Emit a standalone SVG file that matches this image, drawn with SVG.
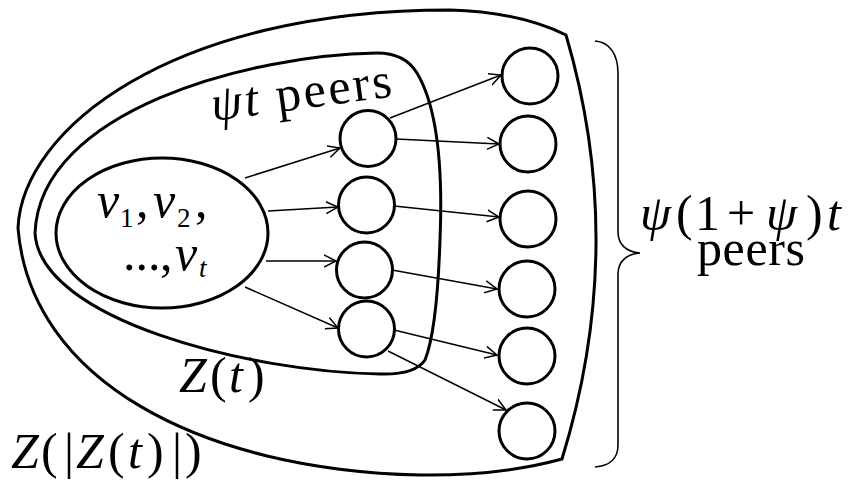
<svg xmlns="http://www.w3.org/2000/svg" width="863" height="480" viewBox="0 0 863 480">
<defs>
<marker id="arr" markerUnits="userSpaceOnUse" markerWidth="14" markerHeight="14" refX="12" refY="6" orient="auto" viewBox="0 0 14 12">
<path d="M0,0 L12,6 L0,12" fill="none" stroke="#000" stroke-width="1.5"/>
</marker>
</defs>
<style>
.shape{fill:none;stroke:#000;stroke-width:3}
.node{fill:#fff;stroke:#000;stroke-width:3}
.edge{fill:none;stroke:#000;stroke-width:1.5;marker-end:url(#arr)}
.brace{fill:none;stroke:#000;stroke-width:1.6}
text{font-family:"Liberation Serif","Times New Roman",serif;font-size:50px;fill:#000}
.it{font-style:italic}
.sub{font-size:27px}
</style>
<rect width="863" height="480" fill="#fff"/>
<g id="zZt">
<path class="shape" d="M566,35 Q628,245 562,459 Q500,476 420,475 C200,470 30,380 18,228 C22,130 170,10 450,10 Q520,12 566,35 Z"/>
</g>
<g id="zt">
<path class="shape" d="M35,233 C40,110 250,55 377,53 Q405,53 417,73 Q445,120 440,240 Q437,330 425,360 Q415,375 380,374 C250,372 40,320 35,233 Z"/>
</g>
<g id="seed">
<ellipse class="shape" cx="162" cy="233" rx="106" ry="75"/>
</g>
<g id="mid">
<circle id="m1" class="node" cx="368" cy="138.5" r="28"/>
<circle id="m2" class="node" cx="366.5" cy="205" r="28"/>
<circle id="m3" class="node" cx="364.5" cy="270" r="28"/>
<circle id="m4" class="node" cx="366.5" cy="329" r="28"/>
</g>
<g id="outer">
<circle id="r1" class="node" cx="530" cy="76" r="28"/>
<circle id="r2" class="node" cx="528" cy="144" r="28"/>
<circle id="r3" class="node" cx="528" cy="219" r="28"/>
<circle id="r4" class="node" cx="527" cy="289" r="28"/>
<circle id="r5" class="node" cx="527" cy="356" r="28"/>
<circle id="r6" class="node" cx="527" cy="431" r="28"/>
</g>
<g id="connectors">
<line class="edge" x1="245" y1="178" x2="340" y2="148"/>
<line class="edge" x1="268" y1="211" x2="338" y2="207"/>
<line class="edge" x1="266" y1="261" x2="336" y2="261"/>
<line class="edge" x1="245" y1="287" x2="338" y2="328"/>
<line class="edge" x1="390" y1="118" x2="501" y2="75"/>
<line class="edge" x1="396" y1="139" x2="499" y2="144"/>
<line class="edge" x1="394" y1="206" x2="499" y2="217"/>
<line class="edge" x1="392" y1="270" x2="497" y2="289"/>
<line class="edge" x1="394" y1="330" x2="497" y2="355"/>
<line class="edge" x1="388" y1="351" x2="506" y2="410"/>
</g>
<g id="brace">
<path class="brace" d="M595,41 C610,42 618,55 618,73 L618,232 C618,244 626,252 640,253 C626,254 618,262 618,274 L618,445 C618,458 610,466 595,467"/>
</g>
<g id="labels">
<text transform="rotate(-7.8 213 121)" x="213" y="121" textLength="182" lengthAdjust="spacing"><tspan class="it">ψt</tspan> peers</text>
<text y="217"><tspan class="it" x="97">v</tspan><tspan class="sub" x="120" y="227">1</tspan><tspan x="136" y="217">,</tspan><tspan class="it" x="153">v</tspan><tspan class="sub" x="177" y="227">2</tspan><tspan x="195" y="217">,</tspan></text>
<text y="270"><tspan x="123">...</tspan><tspan x="160">,</tspan><tspan class="it" x="175">v</tspan><tspan class="sub it" x="199" y="277">t</tspan></text>
<text y="392"><tspan class="it" x="179">Z</tspan><tspan x="210">(</tspan><tspan class="it" x="229">t</tspan><tspan x="248">)</tspan></text>
<text y="468"><tspan class="it" x="11">Z</tspan><tspan x="41">(</tspan><tspan x="64">|</tspan><tspan class="it" x="76">Z</tspan><tspan x="108">(</tspan><tspan class="it" x="128">t</tspan><tspan x="147">)</tspan><tspan x="172">|</tspan><tspan x="185">)</tspan></text>
<text y="230"><tspan class="it" x="640">ψ</tspan><tspan x="676">(</tspan><tspan x="695">1</tspan><tspan x="727">+</tspan><tspan class="it" x="766">ψ</tspan><tspan x="806">)</tspan><tspan class="it" x="827">t</tspan></text>
<text x="751" y="265" text-anchor="middle" textLength="108" lengthAdjust="spacing">peers</text>
</g>
</svg>
